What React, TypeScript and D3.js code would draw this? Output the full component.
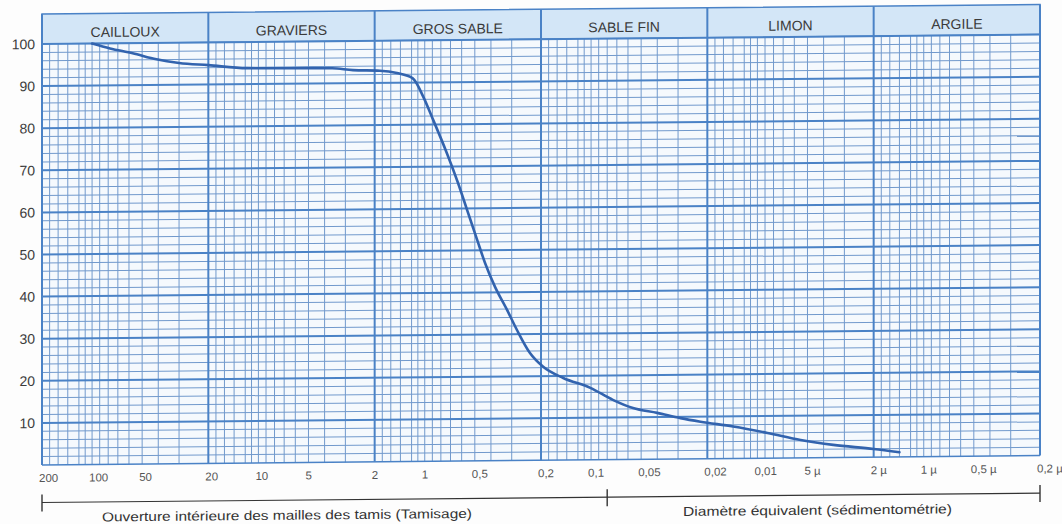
import React from 'react';
import * as d3 from 'd3';

// ---- data ----
const zoneLabels = ['CAILLOUX', 'GRAVIERS', 'GROS SABLE', 'SABLE FIN', 'LIMON', 'ARGILE'];
const decadeBounds = [200, 20, 2, 0.2, 0.02, 0.002, 0.0002]; // mm
const minorMultipliers = [1.5, 2, 2.5, 3, 3.5, 4, 4.5, 5, 5.5, 6, 7, 8, 9];
const tickValues = [200, 100, 50, 20, 10, 5, 2, 1, 0.5, 0.2, 0.1, 0.05, 0.02, 0.01, 0.005, 0.002, 0.001, 0.0005, 0.0002];
const tickLabels = ['200', '100', '50', '20', '10', '5', '2', '1', '0,5', '0,2', '0,1', '0,05', '0,02', '0,01', '5 µ', '2 µ', '1 µ', '0,5 µ', '0,2 µ'];
const yTicks = [10, 20, 30, 40, 50, 60, 70, 80, 90, 100];
const sieveLimit = 0.08; // mm, sieving / sedimentation boundary
const sizes = [100, 78, 57, 41, 30, 20, 11.7, 3.6, 2.7, 1.86, 1.47, 1.18, 1.02, 0.89, 0.74, 0.63, 0.556, 0.484, 0.434, 0.378, 0.32, 0.279, 0.233, 0.194, 0.147, 0.101, 0.074, 0.056, 0.04, 0.029, 0.022, 0.014, 0.0087, 0.0055, 0.0035, 0.002, 0.0014];
const passing = [100, 98.8, 97.6, 96.1, 95.2, 94.6, 93.8, 93.6, 93.1, 92.9, 92.3, 91.0, 86.6, 81.1, 73.4, 66.0, 59.6, 52.5, 47.0, 41.3, 35.8, 31.0, 25.5, 22.2, 19.5, 17.1, 14.2, 12.2, 11.0, 9.7, 8.8, 7.6, 6.0, 4.25, 3.0, 1.95, 1.1];
const leftCaption = 'Ouverture intérieure des mailles des tamis (Tamisage)';
const rightCaption = 'Diamètre équivalent (sédimentométrie)';

const W = 1062;
const H = 524;
const L = 42;
const R = 1040;
const TOP = 44;
const BOT = 465;
const HEAD = 14;
const FONT = '"Liberation Sans", Arial, Helvetica, sans-serif';

export default function App() {
  const x = d3.scaleLog().domain([200, 0.0002]).range([L, R]);
  const y = d3.scaleLinear().domain([0, 100]).range([BOT, TOP]);

  const minorX: number[] = [];
  for (let i = 1; i < decadeBounds.length; i++) {
    const lo = decadeBounds[i];
    minorMultipliers.forEach((m) => minorX.push(lo * m));
  }
  const minorY = d3.range(2, 100, 2).filter((v) => v % 10 !== 0);

  const pts = sizes.map((s, i) => [s, passing[i]] as [number, number]);
  const line = d3
    .line<[number, number]>()
    .x((d) => x(d[0]))
    .y((d) => y(d[1]))
    .curve(d3.curveMonotoneX);

  const minorColor = '#7199cc';
  const majorColor = '#4a82c6';

  return (
    <svg
      width={W}
      height={H}
      style={{ position: 'absolute', left: 0, top: 0, display: 'block', background: '#fdfdfd' }}
      fontFamily={FONT}
    >
      <g transform={`translate(${L},0) skewY(-0.54) translate(${-L},0)`}>
        {/* header band */}
        <rect x={L} y={HEAD} width={R - L} height={TOP - HEAD} fill="#d3e6f7" stroke={majorColor} strokeWidth={1.5} />
        {/* plot background */}
        <rect x={L} y={TOP} width={R - L} height={BOT - TOP} fill="#f5f9fd" />
        {/* minor verticals */}
        {minorX.map((v, i) => (
          <line key={'mx' + i} x1={x(v)} x2={x(v)} y1={TOP} y2={BOT} stroke={minorColor} strokeWidth={1} />
        ))}
        {/* minor horizontals */}
        {minorY.map((v) => (
          <line key={'my' + v} x1={L} x2={R} y1={y(v)} y2={y(v)} stroke={minorColor} strokeWidth={1} />
        ))}
        {/* major horizontals */}
        {[0, ...yTicks].map((v) => (
          <line key={'My' + v} x1={L} x2={R} y1={y(v)} y2={y(v)} stroke={majorColor} strokeWidth={v === 0 ? 1.5 : 2} />
        ))}
        {/* major verticals (zone boundaries) */}
        {decadeBounds.map((v) => (
          <line key={'Mx' + v} x1={x(v)} x2={x(v)} y1={HEAD} y2={BOT} stroke={majorColor} strokeWidth={2} />
        ))}
        {/* zone labels */}
        {zoneLabels.map((lab, i) => (
          <text
            key={lab}
            x={(x(decadeBounds[i]) + x(decadeBounds[i + 1])) / 2}
            y={37.5}
            textAnchor="middle"
            fontSize={14}
            fill="#3a3a3a"
          >
            {lab}
          </text>
        ))}
        {/* y labels */}
        {yTicks.map((v) => (
          <text key={'yl' + v} x={35} y={y(v)} dy="0.36em" textAnchor="end" fontSize={14} fill="#3c3c3c">
            {v}
          </text>
        ))}
        {/* x tick labels */}
        {tickValues.map((v, i) => (
          <text key={'xl' + i} x={x(v) - 3} y={482} textAnchor="start" fontSize={11.5} fill="#555">
            {tickLabels[i]}
          </text>
        ))}
        {/* curve */}
        <path d={line(pts) || ''} fill="none" stroke="#3263ae" strokeWidth={2.6} strokeLinejoin="round" strokeLinecap="round" />
        {/* bottom annotation */}
        <line x1={L} x2={R} y1={502.5} y2={502.5} stroke="#333" strokeWidth={1.2} />
        {[200, sieveLimit, 0.0002].map((v) => (
          <line key={'bt' + v} x1={x(v)} x2={x(v)} y1={494.5} y2={511.5} stroke="#333" strokeWidth={1.4} />
        ))}
        <text x={102} y={522} fontSize={13} fill="#333" textLength={370} lengthAdjust="spacingAndGlyphs">
          {leftCaption}
        </text>
        <text x={683} y={522} fontSize={13} fill="#333" textLength={269} lengthAdjust="spacingAndGlyphs">
          {rightCaption}
        </text>
      </g>
    </svg>
  );
}
